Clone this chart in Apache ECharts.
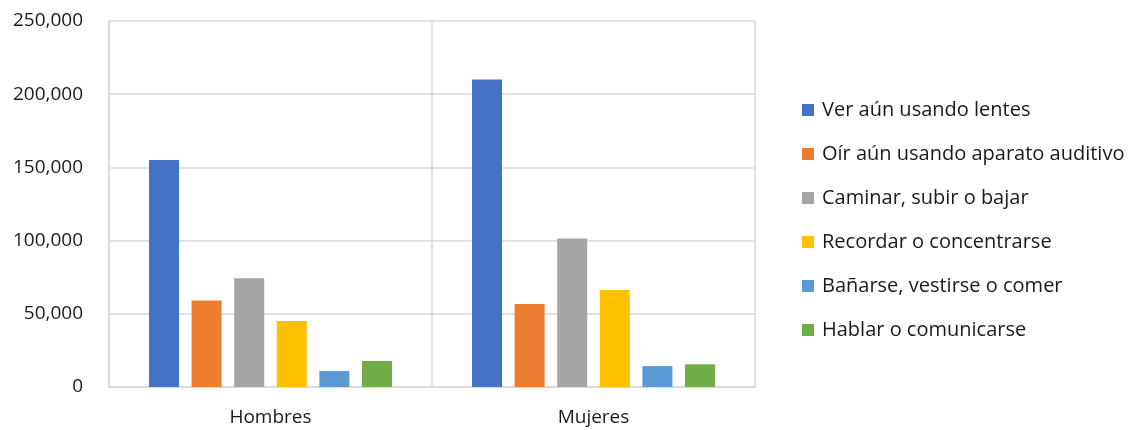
<!DOCTYPE html>
<html>
<head>
<meta charset="utf-8">
<script src="https://cdn.jsdelivr.net/npm/echarts@6/dist/echarts.min.js"></script>
<style>
  html, body { margin: 0; padding: 0; background: #fff; }
  #main { width: 1140px; height: 430px; }
</style>
</head>
<body>
<div id="main"></div>
<script>
// categorías y valores
var categories = ["Hombres", "Mujeres"];
var seriesNames = [
  "Ver aún usando lentes",
  "Oír aún usando aparato auditivo",
  "Caminar, subir o bajar",
  "Recordar o concentrarse",
  "Bañarse, vestirse o comer",
  "Hablar o comunicarse"
];
var verLentes = [155000, 210000];
var oirAuditivo = [59000, 56700];
var caminar = [74200, 101500];
var recordar = [45000, 66200];
var banarse = [10900, 14300];
var hablar = [17800, 15500];
var colors = ["#4472C4", "#ED7D31", "#A5A5A5", "#FFC000", "#5B9BD5", "#70AD47"];

var values = [verLentes, oirAuditivo, caminar, recordar, banarse, hablar];
var font = "'Open Sans', Lato, sans-serif";

var myChart = echarts.init(document.getElementById('main'));

var series = [];
for (var i = 0; i < seriesNames.length; i++) {
  series.push({
    name: seriesNames[i],
    type: 'bar',
    data: values[i],
    barWidth: 30,
    barGap: '42%',
    itemStyle: { color: colors[i] }
  });
}

var option = {
  animation: false,
  textStyle: { fontFamily: font },
  grid: { left: 109, right: 385, top: 21, bottom: 43 },
  legend: {
    orient: 'vertical',
    left: 797,
    top: 95,
    itemWidth: 12,
    itemHeight: 12,
    itemGap: 24,
    icon: 'rect',
    textStyle: { fontSize: 20, color: '#1a1a1a', fontFamily: font, padding: [0, 0, 0, 3] },
    data: seriesNames
  },
  xAxis: {
    type: 'category',
    data: categories,
    axisLine: { lineStyle: { color: '#d9d9d9', width: 1.5 } },
    axisTick: { show: false },
    splitLine: { show: true, lineStyle: { color: '#d9d9d9', width: 1.5 } },
    axisLabel: { fontSize: 19, color: '#1a1a1a', margin: 21, fontFamily: font }
  },
  yAxis: {
    type: 'value',
    min: 0,
    max: 250000,
    interval: 50000,
    axisLine: { show: true, lineStyle: { color: '#d9d9d9', width: 1.5 } },
    axisTick: { show: false },
    splitLine: { lineStyle: { color: '#d9d9d9', width: 1.5 } },
    axisLabel: {
      fontSize: 19,
      color: '#1a1a1a',
      margin: 26,
      fontFamily: font,
      formatter: function(v) { return v.toLocaleString('en-US'); }
    }
  },
  series: series
};

myChart.setOption(option);
</script>
</body>
</html>
